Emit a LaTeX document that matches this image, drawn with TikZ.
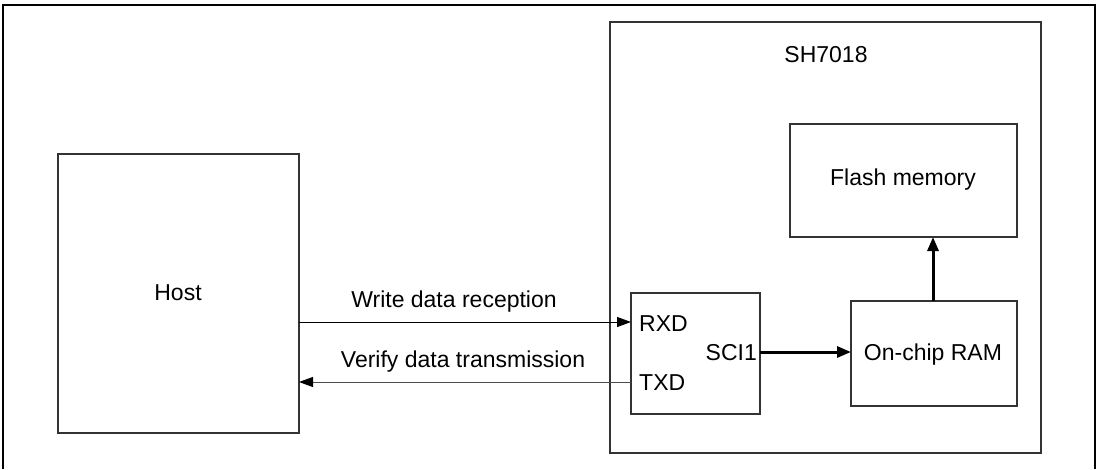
\documentclass[tikz,border=0pt]{standalone}
\usepackage{fontspec}
\setmainfont{Liberation Sans}
\usetikzlibrary{arrows.meta}
\begin{document}
\begin{tikzpicture}[x=1pt,y=-1pt,
  box/.style={draw=black!80,line width=1.2pt},
  lbl/.style={inner sep=0pt,font=\fontsize{23}{28}\selectfont},
  thin/.style={line width=1pt,-{Triangle[length=14pt,width=10pt,fill=black,color=black]}},
  thick/.style={line width=3pt,-{Triangle[length=14pt,width=11pt]}}]
\useasboundingbox (0,0) rectangle (1099,469);
\fill[white] (0,0) rectangle (1099,469);
% outer frame (open at bottom)
\draw[line width=1.2pt] (3,469) -- (3,5) -- (1095,5) -- (1095,469);
% boxes
\draw[box] (610,22) rectangle (1041,453);
\node[lbl] (chip) at (826,55) {SH7018};
\draw[box] (58,154) rectangle (299,433);
\coordinate (hostR1) at (299,322);
\coordinate (hostR2) at (299,382);
\node[lbl] (host) at (178,293) {Host};
\draw[box] (790,124) rectangle (1017,237);
\node[lbl] (flash) at (903,180) {Flash memory};
\coordinate (flashB) at (933,237);
\draw[box] (851,301) rectangle (1017,406);
\node[lbl] (ram) at (933,355) {On-chip RAM};
\coordinate (ramL) at (851,352);
\coordinate (ramT) at (933,301);
\draw[box] (631,293) rectangle (760,414);
\coordinate (sciR) at (760,352);
\coordinate (sciL1) at (631,322);
\coordinate (sciL2) at (631,382);
\node[lbl,anchor=west] (rxd) at (639,324) {RXD};
\node[lbl,anchor=west] (txd) at (639,383) {TXD};
\node[lbl,anchor=east] (sci) at (757,353) {SCI1};
% connectors
\draw[thin,draw=black] (hostR1) -- (sciL1);
\draw[thin,draw=black!70] (sciL2) -- (hostR2);
\node[lbl] (wlab) at (454,302) {Write data reception};
\node[lbl] (vlab) at (463,362) {Verify data transmission};
\draw[thick] (sciR) -- (ramL);
\draw[thick] (ramT) -- (flashB);
\end{tikzpicture}
\end{document}
